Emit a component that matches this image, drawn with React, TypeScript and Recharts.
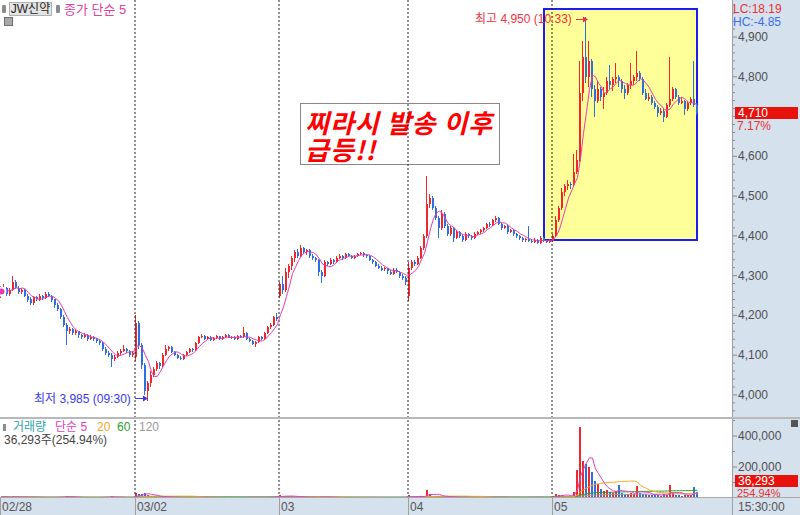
import { ComposedChart, Bar, Line, XAxis, YAxis, ReferenceLine } from 'recharts';

// [시가, 고가, 저가, 종가, 거래량]
type Candle = [number, number, number, number, number];

const day0228: Candle[] = [
  [4250, 4275, 4245, 4260, 9000], [4260, 4280, 4255, 4270, 6000], [4270, 4272, 4250, 4255, 5000],
  [4255, 4270, 4250, 4265, 4000], [4265, 4300, 4262, 4285, 12000], [4285, 4288, 4265, 4270, 6000],
  [4270, 4275, 4255, 4260, 5000], [4260, 4270, 4255, 4265, 3000], [4265, 4266, 4245, 4250, 6000],
  [4250, 4255, 4235, 4240, 5000], [4240, 4245, 4225, 4230, 7000], [4230, 4250, 4228, 4245, 4000],
  [4245, 4248, 4235, 4240, 3000], [4240, 4255, 4238, 4250, 4000], [4250, 4252, 4240, 4245, 3000],
  [4245, 4260, 4243, 4255, 5000], [4255, 4258, 4245, 4250, 3000], [4250, 4252, 4235, 4240, 4000],
  [4240, 4242, 4220, 4225, 6000], [4225, 4230, 4210, 4215, 5000], [4215, 4218, 4190, 4195, 8000],
  [4195, 4200, 4170, 4175, 9000], [4175, 4180, 4125, 4160, 12000], [4160, 4172, 4155, 4165, 5000],
  [4165, 4168, 4150, 4155, 4000], [4155, 4165, 4150, 4160, 3000], [4160, 4162, 4145, 4150, 4000],
  [4150, 4152, 4140, 4145, 3000], [4145, 4155, 4143, 4150, 3000], [4150, 4152, 4135, 4140, 4000],
  [4140, 4150, 4138, 4145, 3000], [4145, 4148, 4135, 4140, 3000], [4140, 4142, 4130, 4135, 4000],
  [4135, 4140, 4125, 4130, 5000], [4130, 4132, 4110, 4115, 7000], [4115, 4120, 4100, 4105, 6000],
  [4105, 4110, 4095, 4100, 5000], [4100, 4105, 4070, 4090, 10000], [4090, 4100, 4085, 4095, 5000],
  [4095, 4110, 4092, 4105, 4000], [4105, 4115, 4100, 4110, 3000], [4110, 4125, 4108, 4115, 4000],
  [4115, 4118, 4105, 4110, 3000], [4110, 4112, 4095, 4100, 4000], [4100, 4110, 4095, 4105, 6000],
];

const day0302: Candle[] = [
  [4095, 4200, 4085, 4180, 35000], [4180, 4185, 4115, 4125, 28000], [4125, 4130, 4065, 4075, 25000],
  [4075, 4080, 4000, 4010, 30000], [4010, 4035, 3985, 4030, 22000], [4030, 4060, 4020, 4050, 15000],
  [4050, 4070, 4045, 4065, 10000], [4065, 4085, 4060, 4080, 9000], [4080, 4082, 4065, 4072, 6000],
  [4072, 4105, 4070, 4100, 8000], [4100, 4125, 4098, 4115, 9000], [4115, 4123, 4110, 4120, 5000],
  [4120, 4122, 4105, 4108, 4000], [4108, 4110, 4098, 4100, 4000], [4100, 4102, 4090, 4093, 5000],
  [4093, 4098, 4088, 4090, 3000], [4090, 4103, 4088, 4100, 4000], [4100, 4110, 4098, 4108, 3000],
  [4108, 4118, 4105, 4115, 4000], [4115, 4118, 4108, 4112, 3000], [4112, 4133, 4110, 4130, 6000],
  [4130, 4148, 4128, 4145, 7000], [4145, 4152, 4142, 4148, 4000], [4148, 4150, 4137, 4140, 3000],
  [4140, 4148, 4138, 4145, 3000], [4145, 4147, 4135, 4138, 3000], [4138, 4146, 4136, 4143, 2000],
  [4143, 4150, 4141, 4147, 3000], [4147, 4149, 4138, 4140, 3000], [4140, 4147, 4138, 4145, 2000],
  [4145, 4153, 4143, 4150, 3000], [4150, 4152, 4141, 4143, 3000], [4143, 4148, 4141, 4146, 2000],
  [4146, 4147, 4137, 4140, 3000], [4140, 4150, 4138, 4148, 3000], [4148, 4150, 4142, 4145, 2000],
  [4145, 4170, 4143, 4155, 7000], [4155, 4157, 4138, 4140, 5000], [4140, 4142, 4132, 4135, 4000],
  [4135, 4137, 4125, 4128, 4000], [4128, 4136, 4122, 4133, 3000], [4133, 4148, 4131, 4145, 5000],
  [4145, 4147, 4137, 4140, 3000], [4140, 4158, 4138, 4155, 6000], [4155, 4173, 4153, 4170, 7000],
  [4170, 4180, 4165, 4175, 6000], [4175, 4198, 4172, 4195, 9000], [4195, 4205, 4185, 4190, 8000],
];

const day0303: Candle[] = [
  [4250, 4285, 4244, 4280, 18000], [4280, 4300, 4255, 4265, 12000], [4265, 4320, 4260, 4310, 14000],
  [4310, 4330, 4295, 4325, 10000], [4325, 4350, 4315, 4345, 11000], [4345, 4365, 4335, 4360, 9000],
  [4360, 4368, 4345, 4350, 6000], [4350, 4377, 4348, 4370, 8000], [4370, 4372, 4355, 4360, 5000],
  [4360, 4368, 4352, 4365, 4000], [4365, 4367, 4345, 4350, 5000], [4350, 4355, 4340, 4345, 4000],
  [4345, 4348, 4335, 4340, 4000], [4340, 4342, 4300, 4310, 8000], [4310, 4315, 4282, 4300, 9000],
  [4300, 4340, 4298, 4335, 7000], [4335, 4338, 4325, 4330, 4000], [4330, 4345, 4328, 4340, 4000],
  [4340, 4343, 4330, 4335, 3000], [4335, 4350, 4333, 4345, 4000], [4345, 4355, 4342, 4350, 4000],
  [4350, 4352, 4340, 4345, 3000], [4345, 4358, 4343, 4355, 4000], [4355, 4357, 4347, 4350, 3000],
  [4350, 4352, 4342, 4345, 3000], [4345, 4353, 4343, 4350, 3000], [4350, 4358, 4348, 4355, 3000],
  [4355, 4360, 4352, 4358, 4000], [4358, 4360, 4348, 4352, 3000], [4352, 4355, 4345, 4350, 3000],
  [4350, 4352, 4337, 4340, 4000], [4340, 4343, 4330, 4335, 3000], [4335, 4337, 4322, 4325, 4000],
  [4325, 4328, 4315, 4320, 3000], [4320, 4323, 4310, 4315, 3000], [4315, 4322, 4312, 4318, 3000],
  [4318, 4320, 4305, 4310, 4000], [4310, 4313, 4300, 4305, 3000], [4305, 4320, 4303, 4315, 4000],
  [4315, 4318, 4305, 4310, 3000], [4310, 4312, 4295, 4300, 4000], [4300, 4305, 4290, 4295, 4000],
  [4295, 4298, 4276, 4285, 6000],
];

const day0304: Candle[] = [
  [4250, 4335, 4238, 4320, 20000], [4320, 4340, 4315, 4335, 9000], [4335, 4340, 4325, 4330, 6000],
  [4330, 4350, 4328, 4345, 7000], [4345, 4375, 4343, 4370, 10000], [4370, 4405, 4365, 4400, 14000],
  [4400, 4550, 4395, 4480, 52000], [4480, 4505, 4470, 4495, 25000], [4495, 4500, 4465, 4470, 15000],
  [4470, 4475, 4440, 4445, 12000], [4445, 4450, 4395, 4420, 14000], [4420, 4465, 4415, 4455, 10000],
  [4455, 4460, 4420, 4425, 8000], [4425, 4430, 4400, 4405, 7000], [4405, 4425, 4400, 4420, 5000],
  [4420, 4423, 4385, 4395, 7000], [4395, 4415, 4392, 4410, 5000], [4410, 4413, 4395, 4400, 4000],
  [4400, 4405, 4385, 4390, 5000], [4390, 4410, 4388, 4405, 4000], [4405, 4408, 4395, 4400, 3000],
  [4400, 4403, 4390, 4395, 3000], [4395, 4410, 4393, 4405, 4000], [4405, 4413, 4402, 4410, 3000],
  [4410, 4418, 4405, 4415, 4000], [4415, 4423, 4410, 4420, 4000], [4420, 4433, 4418, 4430, 5000],
  [4430, 4435, 4422, 4428, 3000], [4428, 4443, 4425, 4440, 5000], [4440, 4450, 4435, 4445, 6000],
  [4445, 4447, 4428, 4430, 4000], [4430, 4432, 4415, 4420, 4000], [4420, 4428, 4417, 4425, 3000],
  [4425, 4427, 4405, 4410, 4000], [4410, 4418, 4407, 4415, 3000], [4415, 4417, 4400, 4405, 3000],
  [4405, 4408, 4395, 4400, 3000], [4400, 4402, 4390, 4395, 3000], [4395, 4398, 4385, 4390, 3000],
  [4390, 4395, 4385, 4392, 2000], [4392, 4425, 4385, 4388, 8000], [4388, 4392, 4382, 4385, 3000],
  [4385, 4395, 4383, 4390, 3000], [4390, 4392, 4380, 4383, 3000], [4383, 4400, 4381, 4395, 5000],
  [4395, 4397, 4385, 4388, 3000], [4388, 4390, 4382, 4385, 3000], [4385, 4392, 4383, 4388, 4000],
];

const day0305: Candle[] = [
  [4388, 4405, 4385, 4400, 12000], [4400, 4450, 4398, 4440, 25000], [4440, 4475, 4435, 4470, 20000],
  [4470, 4520, 4465, 4510, 22000], [4510, 4530, 4500, 4525, 15000], [4525, 4540, 4515, 4530, 12000],
  [4530, 4535, 4518, 4528, 10000], [4528, 4605, 4525, 4560, 40000], [4560, 4615, 4555, 4590, 180000],
  [4590, 4840, 4585, 4760, 458000], [4760, 4890, 4740, 4850, 240000], [4850, 4950, 4785, 4800, 220000],
  [4800, 4890, 4775, 4840, 200000], [4840, 4845, 4750, 4770, 170000], [4770, 4780, 4700, 4740, 110000],
  [4740, 4790, 4735, 4770, 90000], [4770, 4775, 4740, 4750, 60000], [4750, 4775, 4720, 4760, 45000],
  [4760, 4800, 4755, 4790, 50000], [4790, 4830, 4770, 4780, 40000], [4780, 4800, 4765, 4795, 35000],
  [4795, 4835, 4785, 4800, 45000], [4800, 4805, 4775, 4790, 85000], [4790, 4795, 4760, 4770, 30000],
  [4770, 4780, 4745, 4760, 25000], [4760, 4785, 4755, 4780, 28000], [4780, 4835, 4770, 4790, 35000],
  [4790, 4805, 4780, 4800, 25000], [4800, 4865, 4790, 4810, 77000], [4810, 4815, 4790, 4795, 30000],
  [4795, 4800, 4755, 4760, 28000], [4760, 4768, 4740, 4745, 25000], [4745, 4760, 4740, 4750, 18000],
  [4750, 4755, 4730, 4735, 20000], [4735, 4740, 4720, 4725, 18000], [4725, 4730, 4700, 4710, 22000],
  [4710, 4722, 4705, 4715, 15000], [4715, 4718, 4685, 4700, 25000], [4700, 4735, 4698, 4730, 20000],
  [4730, 4850, 4725, 4745, 85000], [4745, 4775, 4740, 4770, 30000], [4770, 4772, 4745, 4750, 20000],
  [4750, 4755, 4730, 4735, 18000], [4735, 4748, 4730, 4740, 15000], [4740, 4742, 4705, 4720, 22000],
  [4720, 4740, 4715, 4735, 18000], [4735, 4750, 4730, 4745, 20000], [4745, 4840, 4725, 4730, 70000],
  [4730, 4735, 4705, 4710, 36293],
];

const dayLabels = ['02/28', '03/02', '03', '04', '05'];
const priceMajorTicks = [4000, 4100, 4200, 4300, 4400, 4500, 4600, 4700, 4800, 4900];
const volumeMajorTicks = [200000, 400000];
// labels hidden under the current-price tag
const coveredTicks = [4700];

const UP = '#f0282d';
const DOWN = '#2e6fe0';
const PANEL = '#d6e1ee';
const FONT = '"Liberation Sans", "Noto Sans CJK KR", sans-serif';
const KFONT = '"Noto Sans CJK KR", sans-serif';

const PLOT_W = 732;
const X_SLOTS = 244;
const PRICE_DOMAIN = [3942, 4993];
const VOLUME_DOMAIN = [0, 510000];

const days = [day0228, day0302, day0303, day0304, day0305];
const dayStarts: number[] = [];
const rows: any[] = [];
days.forEach((d) => {
  dayStarts.push(rows.length);
  d.forEach(([o, h, l, c, v]) => {
    rows.push({ i: rows.length, o, h, l, c, v, range: [l, h] });
  });
});

const sma = (vals: number[], n: number) =>
  vals.map((_, k) => {
    const s = vals.slice(Math.max(0, k - n + 1), k + 1);
    return s.reduce((a, b) => a + b, 0) / s.length;
  });

const closes = rows.map((r) => r.c);
const vols = rows.map((r) => r.v);
const ma5 = sma(closes, 5);
const vma5 = sma(vols, 5);
const vma20 = sma(vols, 20);
const vma60 = sma(vols, 60);
const vma120 = sma(vols, 120);
rows.forEach((r, k) => {
  r.ma5 = ma5[k];
  r.vma5 = vma5[k];
  r.vma20 = vma20[k];
  r.vma60 = vma60[k];
  r.vma120 = vma120[k];
});

const priceTicks: number[] = [];
for (let v = 3960; v <= 4980; v += 20) priceTicks.push(v);
const volumeTicks = [100000, 200000, 300000, 400000, 500000];

const CandleShape = (props: any) => {
  const { x, y, width, height, payload } = props;
  if (!payload || !height) return null;
  const { o, h, l, c } = payload;
  const k = height / (h - l);
  const yo = y + (h - o) * k;
  const yc = y + (h - c) * k;
  const color = c >= o ? UP : DOWN;
  const left = Math.round(x + width / 2 - 1);
  const top = Math.round(Math.min(yo, yc));
  const bh = Math.max(1, Math.round(Math.abs(yo - yc)));
  return (
    <g shapeRendering="crispEdges">
      <rect x={left} y={Math.round(y)} width={1} height={Math.max(1, Math.round(height))} fill={color} />
      <rect x={left} y={top} width={2} height={bh} fill={color} />
    </g>
  );
};

const VolumeShape = (props: any) => {
  const { x, y, width, height, payload } = props;
  if (!payload || !height) return null;
  const color = payload.c >= payload.o ? UP : DOWN;
  return (
    <rect
      x={Math.round(x + width / 2 - 1)}
      y={y}
      width={2}
      height={Math.max(0, height)}
      fill={color}
      shapeRendering="crispEdges"
    />
  );
};

const makeTick = (majors: number[]) => (props: any) => {
  const { x, y, payload } = props;
  const v = payload.value;
  const major = majors.includes(v);
  return (
    <g>
      <line x1={x} x2={x + (major ? 5 : 3)} y1={y} y2={y} stroke="#8a8a8a" />
      {major && !coveredTicks.includes(v) && (
        <text x={x + 6} y={y} dy={4} fontSize={12} fill="#505050" fontFamily={FONT} textAnchor="start">
          {v.toLocaleString('en-US')}
        </text>
      )}
    </g>
  );
};

const PriceTick = makeTick(priceMajorTicks);
const VolumeTick = makeTick(volumeMajorTicks);

const T = ({ x, y, color, size = 12, children, style }: any) => (
  <div
    style={{
      position: 'absolute',
      left: x,
      top: y,
      color,
      fontSize: size,
      lineHeight: 1,
      fontFamily: FONT,
      whiteSpace: 'nowrap',
      ...style,
    }}
  >
    {children}
  </div>
);

const slotPx = PLOT_W / X_SLOTS;

export default function App() {
  return (
    <div style={{ position: 'absolute', left: 0, top: 0, width: 800, height: 515, background: '#fff', overflow: 'hidden' }}>
      {/* axis panels */}
      <div style={{ position: 'absolute', left: PLOT_W, top: 0, width: 800 - PLOT_W, height: 515, background: PANEL }} />
      <div style={{ position: 'absolute', left: 0, top: 498, width: 800, height: 17, background: PANEL }} />

      {/* annotation boxes behind the chart */}
      <div
        style={{
          position: 'absolute',
          left: 543,
          top: 8,
          width: 155,
          height: 233,
          background: '#ffff99',
          border: '2px solid #1c1cf0',
          boxSizing: 'border-box',
        }}
      />
      <div
        style={{
          position: 'absolute',
          left: 300,
          top: 103,
          width: 200,
          height: 62,
          background: '#fff',
          border: '1px solid #888',
          boxSizing: 'border-box',
        }}
      />
      <div
        style={{
          position: 'absolute',
          left: 305,
          top: 108,
          color: '#ff0000',
          fontFamily: KFONT,
          fontSize: 26,
          fontWeight: 700,
          fontStyle: 'italic',
          lineHeight: '27px',
          letterSpacing: 1,
          whiteSpace: 'nowrap',
        }}
      >
        <div>찌라시 발송 이후</div>
        <div>급등!!</div>
      </div>

      {/* price panel */}
      <div style={{ position: 'absolute', left: 0, top: 0 }}>
        <ComposedChart width={800} height={418} data={rows} margin={{ top: 0, right: 0, bottom: 0, left: 0 }}>
          <XAxis dataKey="i" type="number" domain={[-0.5, X_SLOTS - 0.5]} hide allowDataOverflow />
          <YAxis
            orientation="right"
            width={800 - PLOT_W}
            type="number"
            domain={PRICE_DOMAIN}
            allowDataOverflow
            ticks={priceTicks}
            interval={0}
            tick={<PriceTick />}
            tickSize={0}
            tickMargin={0}
            axisLine={false}
            tickLine={false}
          />
          {dayStarts.slice(1).map((s) => (
            <ReferenceLine key={s} x={s - 0.5} stroke="#222" strokeDasharray="2 2" />
          ))}
          <Bar dataKey="range" barSize={2} shape={<CandleShape />} isAnimationActive={false} />
          <Line dataKey="ma5" stroke="#e63cb4" strokeWidth={1} dot={false} isAnimationActive={false} />
        </ComposedChart>
      </div>

      {/* volume panel */}
      <div style={{ position: 'absolute', left: 0, top: 419 }}>
        <ComposedChart width={800} height={79} data={rows} margin={{ top: 0, right: 0, bottom: 0, left: 0 }}>
          <XAxis dataKey="i" type="number" domain={[-0.5, X_SLOTS - 0.5]} hide allowDataOverflow />
          <YAxis
            orientation="right"
            width={800 - PLOT_W}
            type="number"
            domain={VOLUME_DOMAIN}
            allowDataOverflow
            ticks={volumeTicks}
            interval={0}
            tick={<VolumeTick />}
            tickSize={0}
            tickMargin={0}
            axisLine={false}
            tickLine={false}
          />
          {dayStarts.slice(1).map((s) => (
            <ReferenceLine key={s} x={s - 0.5} stroke="#222" strokeDasharray="2 2" />
          ))}
          <Bar dataKey="v" barSize={2} shape={<VolumeShape />} isAnimationActive={false} />
          <Line dataKey="vma120" stroke="#a0a0a0" strokeWidth={1} dot={false} isAnimationActive={false} />
          <Line dataKey="vma60" stroke="#2ca02c" strokeWidth={1} dot={false} isAnimationActive={false} />
          <Line dataKey="vma20" stroke="#f5a623" strokeWidth={1} dot={false} isAnimationActive={false} />
          <Line dataKey="vma5" stroke="#e040c0" strokeWidth={1} dot={false} isAnimationActive={false} />
        </ComposedChart>
      </div>

      {/* frame lines */}
      <div style={{ position: 'absolute', left: PLOT_W, top: 0, width: 1, height: 515, background: '#a0a0a0' }} />
      <div style={{ position: 'absolute', left: 0, top: 417, width: 800, height: 2, background: '#b8b8b8' }} />
      <div style={{ position: 'absolute', left: 0, top: 497, width: 800, height: 1, background: '#a8a8a8' }} />

      {/* time axis */}
      {dayStarts.map((s, k) => {
        const px = Math.round(s * slotPx);
        return (
          <div key={k}>
            <div style={{ position: 'absolute', left: px, top: 498, width: 1, height: 17, background: '#a0a0a0' }} />
            <T x={px + 2} y={501} color="#555">
              {dayLabels[k]}
            </T>
          </div>
        );
      })}
      <T x={738} y={501} color="#555">
        15:30:00
      </T>

      {/* top-left legend */}
      <div style={{ position: 'absolute', left: 2, top: 5, width: 4, height: 8, background: '#8c8c8c', borderRadius: 1 }} />
      <div
        style={{
          position: 'absolute',
          left: 9,
          top: 2,
          width: 43,
          height: 14,
          background: '#e4e4e4',
          border: '1px solid #b0b0b0',
          boxSizing: 'border-box',
          fontSize: 12,
          lineHeight: '12px',
          textAlign: 'center',
          color: '#222',
          fontFamily: FONT,
        }}
      >
        JW신약
      </div>
      <div style={{ position: 'absolute', left: 56, top: 5, width: 4, height: 8, background: '#8c8c8c', borderRadius: 1 }} />
      <T x={64} y={3} color="#e0409f" size={13}>
        종가 단순 5
      </T>
      <div
        style={{
          position: 'absolute',
          left: 4,
          top: 17,
          width: 9,
          height: 9,
          background: '#a8a8a8',
          border: '1px solid #707070',
          boxSizing: 'border-box',
        }}
      />

      {/* price axis labels */}
      <T x={733} y={3} color="#e83030">
        LC:18.19
      </T>
      <T x={733} y={16} color="#3a6ee8">
        HC:-4.85
      </T>
      <div
        style={{
          position: 'absolute',
          left: 735,
          top: 107,
          width: 63,
          height: 12,
          background: '#e8120c',
          color: '#fff',
          fontSize: 12,
          lineHeight: '12px',
          paddingLeft: 3,
          boxSizing: 'border-box',
          fontFamily: FONT,
        }}
      >
        4,710
      </div>
      <T x={737} y={120} color="#e83030">
        7.17%
      </T>

      {/* volume legend and labels */}
      <div style={{ position: 'absolute', left: 3, top: 424, width: 3, height: 7, background: '#8c8c8c' }} />
      <T x={13} y={421} color="#2ba6a6">
        거래량
      </T>
      <T x={55} y={421} color="#e040c0">
        단순 5
      </T>
      <T x={97} y={421} color="#f5a623">
        20
      </T>
      <T x={117} y={421} color="#2ca02c">
        60
      </T>
      <T x={139} y={421} color="#999">
        120
      </T>
      <T x={4} y={434} color="#444">
        36,293주(254.94%)
      </T>
      <div style={{ position: 'absolute', left: 791, top: 420, width: 7, height: 7, background: '#555' }} />
      <div
        style={{
          position: 'absolute',
          left: 735,
          top: 475,
          width: 63,
          height: 12,
          background: '#e8120c',
          color: '#fff',
          fontSize: 12,
          lineHeight: '12px',
          paddingLeft: 3,
          boxSizing: 'border-box',
          fontFamily: FONT,
        }}
      >
        36,293
      </div>
      <T x={737} y={488} color="#e83030" size={11}>
        254.94%
      </T>

      {/* high / low annotations */}
      <T x={475} y={13} color="#f03040">
        최고 4,950 (10:33)
      </T>
      <T x={34} y={393} color="#3a3ae8">
        최저 3,985 (09:30)
      </T>
      <svg width={800} height={515} style={{ position: 'absolute', left: 0, top: 0, pointerEvents: 'none' }}>
        <line x1={576} x2={585} y1={19.5} y2={19.5} stroke="#f03040" />
        <polygon points="588,19.5 583,16.5 583,22.5" fill="#f03040" />
        <line x1={135} x2={144} y1={398.5} y2={398.5} stroke="#3a3ae8" />
        <polygon points="148,398.5 143,395.5 143,401.5" fill="#3a3ae8" />
      </svg>
    </div>
  );
}
